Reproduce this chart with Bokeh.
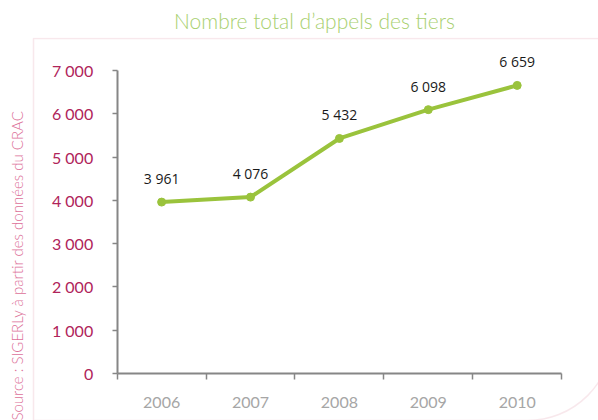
from bokeh.plotting import figure
from bokeh.models import FixedTicker, Title, BoxAnnotation, ColumnDataSource, Range1d
from bokeh.core.properties import value
from bokeh.embed import file_html
from bokeh.resources import INLINE

years = ["2006", "2007", "2008", "2009", "2010"]
appels = [3961, 4076, 5432, 6098, 6659]
appel_labels = ["3 961", "4 076", "5 432", "6 098", "6 659"]
y_ticks = [0, 1000, 2000, 3000, 4000, 5000, 6000, 7000]
y_tick_labels = ["0", "1 000", "2 000", "3 000", "4 000", "5 000", "6 000", "7 000"]
title_text = "Nombre total d\u2019appels des tiers"
source_text = "Source : SIGERLy \u00e0 partir des donn\u00e9es du CRAC"

xs = [i + 0.5 for i in range(len(years))]
src = ColumnDataSource(dict(x=xs, y=appels, lab=appel_labels))

W, H = 598, 420
# plot frame = the whole decorated area (canvas px)
FL, FT = 28, 35
FR, FB = W, H
# where the axes sit (canvas px)
AX_L, AX_R, AX_T, AX_B = 115, 561, 68.3, 372.7
ymax = y_ticks[-1]
kx = (AX_R - AX_L) / len(years)
ky = (AX_B - AX_T) / ymax
x_range = Range1d(-(AX_L - FL) / kx, len(years) + (FR - AX_R) / kx)
y_range = Range1d(-(FB - AX_B) / ky, ymax + (AX_T - FT) / ky)

p = figure(width=W, height=H, output_backend="svg", toolbar_location=None,
           x_range=x_range, y_range=y_range,
           min_border_left=FL, min_border_right=W - FR, min_border_top=FT, min_border_bottom=H - FB)
p.outline_line_color = None
p.grid.grid_line_color = None
p.background_fill_color = "white"
p.border_fill_color = "white"

# x axis: labels at category centres, ticks at boundaries
p.xaxis.fixed_location = 0
p.xaxis.bounds = (0, len(years))
p.xaxis.ticker = FixedTicker(ticks=xs, minor_ticks=list(range(len(years) + 1)))
p.xaxis.major_label_overrides = {x: y for x, y in zip(xs, years)}
p.xaxis.major_tick_line_color = None
p.xaxis.major_tick_out = 0
p.xaxis.major_tick_in = 0
p.xaxis.minor_tick_line_color = "#868686"
p.xaxis.minor_tick_line_width = 1.5
p.xaxis.minor_tick_out = 6
p.xaxis.minor_tick_in = 0
p.xaxis.axis_line_color = "#868686"
p.xaxis.axis_line_width = 2
p.xaxis.major_label_text_color = "#a6a6a6"
p.xaxis.major_label_text_font = "Lato"
p.xaxis.major_label_text_font_size = "16px"
p.xaxis.major_label_standoff = 18

p.yaxis.fixed_location = 0
p.yaxis.bounds = (0, ymax)
p.yaxis.ticker = FixedTicker(ticks=y_ticks)
p.yaxis.major_label_overrides = {t: l for t, l in zip(y_ticks, y_tick_labels)}
p.yaxis.minor_tick_line_color = None
p.yaxis.major_tick_line_color = "#868686"
p.yaxis.major_tick_line_width = 1.5
p.yaxis.major_tick_out = 5
p.yaxis.major_tick_in = 0
p.yaxis.axis_line_color = "#868686"
p.yaxis.axis_line_width = 2
p.yaxis.major_label_text_color = "#b0245a"
p.yaxis.major_label_text_font = "Lato"
p.yaxis.major_label_text_font_size = "16px"
p.yaxis.major_label_standoff = 19

p.line("x", "y", source=src, line_color="#9ac33c", line_width=4)
p.scatter("x", "y", source=src, size=8, fill_color="#9ac33c", line_color="#9ac33c")
p.text("x", "y", text="lab", source=src, text_align="center", text_baseline="bottom",
       y_offset=-14, text_font_size="14px", text_color="#1a1a1a", text_font=value("Open Sans"))

# decorative pink frame: top & left edges, rounded bottom-right corner (screen units are
# measured from the frame's bottom-left corner, y upward)
deco = BoxAnnotation(left=31 - FL, right=610 - FL, top=FB - 38, bottom=FB - 420,
                     left_units="screen", right_units="screen",
                     top_units="screen", bottom_units="screen",
                     fill_alpha=0, line_color="#e8b4c0", line_width=1.5,
                     border_radius=dict(top_left=0, top_right=0, bottom_right=85, bottom_left=0))
p.add_layout(deco)

p.add_layout(Title(text=title_text, align="center", offset=7, text_font="Lato Light, Lato",
                   text_font_size="21px", text_font_style="normal", text_color="#a8d070"), "above")
p.add_layout(Title(text=source_text, align="left", text_font="Lato Light, Lato",
                   text_font_size="15px", text_font_style="normal", text_color="#dc7098"), "left")

open("out.html", "w").write(file_html(p, INLINE))
